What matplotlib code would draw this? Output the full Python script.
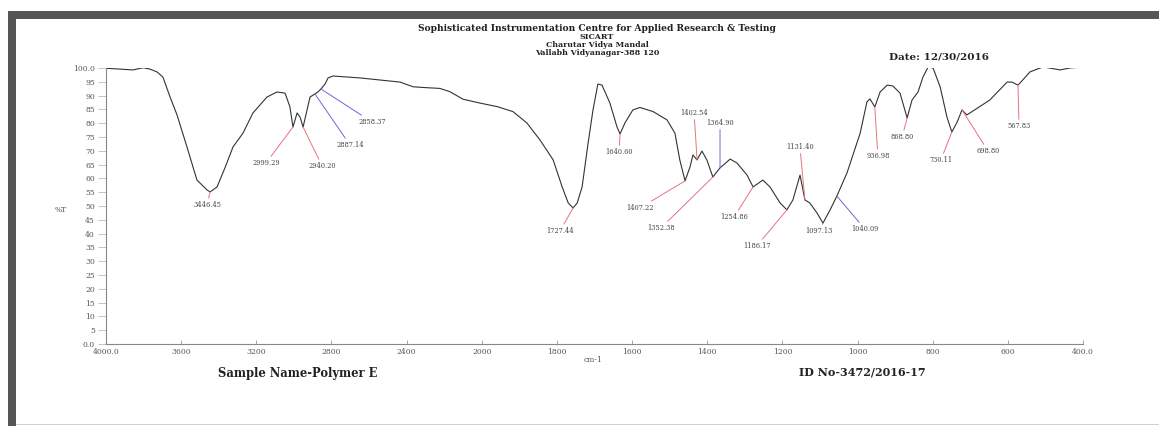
import numpy as np
import matplotlib
matplotlib.use("Agg")
import matplotlib.pyplot as plt
from matplotlib.patches import Rectangle

# ---------------- data ----------------
wavenumber = [4000, 3925, 3856, 3803, 3766, 3729, 3697, 3659, 3622, 3569, 3516, 3462,
              3446, 3409, 3367, 3324, 3271, 3218, 3143, 3090, 3047, 3021, 3005, 2983,
              2967, 2951, 2914, 2888, 2872, 2856, 2834, 2818, 2792, 2648, 2435, 2366,
              2302, 2222, 2169, 2100, 2010, 1959, 1917, 1880, 1845, 1810, 1786, 1770,
              1757, 1746, 1733, 1717, 1704, 1691, 1680, 1659, 1640, 1632, 1619, 1598,
              1579, 1544, 1507, 1486, 1473, 1459, 1446, 1438, 1427, 1414, 1401, 1385,
              1366, 1339, 1321, 1294, 1278, 1252, 1233, 1206, 1188, 1172, 1153, 1140,
              1127, 1108, 1092, 1073, 1055, 1028, 993, 975, 967, 954, 940, 921, 906,
              887, 868, 855, 839, 826, 812, 799, 780, 762, 749, 735, 722, 709, 701,
              648, 602, 589, 573, 560, 541, 506, 461, 435, 400]
transmittance = [99.9, 99.6, 99.3, 100.1, 99.6, 98.6, 96.7, 89.5, 83.0, 71.4, 59.4, 55.8,
                 55.1, 56.9, 63.8, 71.4, 76.4, 83.7, 89.5, 91.3, 90.9, 85.9, 78.6, 83.7,
                 82.2, 78.6, 89.5, 90.6, 91.3, 92.4, 94.2, 96.4, 97.1, 96.4, 94.9, 93.2,
                 92.9, 92.6, 91.4, 88.7, 87.3, 86.0, 84.2, 80.1, 73.9, 66.7, 56.9, 51.1,
                 49.3, 51.1, 56.9, 72.8, 84.8, 94.2, 93.8, 87.3, 78.6, 76.1, 80.1, 84.8,
                 85.7, 84.2, 81.2, 76.4, 66.7, 59.1, 64.1, 68.5, 66.7, 69.9, 66.7, 60.5,
                 63.8, 67.0, 65.6, 61.2, 56.9, 59.4, 56.9, 51.1, 48.6, 52.2, 61.2, 52.2,
                 51.1, 47.5, 43.8, 48.6, 53.6, 62.0, 76.4, 87.7, 88.8, 85.9, 91.3, 93.8, 93.5,
                 90.9, 81.9, 88.4, 91.3, 96.7, 100.4, 100.0, 93.1, 82.2, 76.8, 80.4, 84.8, 83.0, 83.7,
                 88.4, 94.9, 94.9, 93.8, 95.7, 98.6, 100.4, 99.3, 100.0, 100.4]

peak_labels = ["3446.45", "2999.29", "2940.20", "2887.14", "2858.37", "1727.44",
               "1640.60", "1407.22", "1402.54", "1352.38", "1364.90", "1254.86",
               "1186.17", "1131.40", "1097.13", "1040.09", "936.98", "868.80",
               "730.11", "698.80", "567.83"]
peak_wn = [3446, 3005, 2951, 2888, 2856, 1757, 1632, 1459, 1427, 1385, 1366, 1278,
           1188, 1140, 1092, 1055, 954, 868, 749, 722, 573]
peak_t = [55.1, 78.6, 78.6, 90.6, 92.4, 49.3, 76.1, 59.1, 66.7, 60.5, 63.8, 56.9,
          48.6, 52.2, 43.8, 53.6, 85.9, 81.9, 76.8, 84.8, 93.8]

x_ticks = [4000, 3600, 3200, 2800, 2400, 2000, 1800, 1600, 1400, 1200, 1000, 800, 600, 400]
x_tick_labels = ["4000.0", "3600", "3200", "2800", "2400", "2000", "1800", "1600",
                 "1400", "1200", "1000", "800", "600", "400.0"]
y_ticks = list(range(0, 101, 5))
y_tick_labels = ["0.0"] + [str(v) for v in range(5, 100, 5)] + ["100.0"]

# ---------------- layout / style ----------------
W, H = 1159, 426
label_offsets = [(-3, -13), (-27, -36), (19, -39), (35, -51), (51, -33), (-13, -23),
                 (-1, -18), (-45, -27), (-3, 47), (-52, -51), (0, 45), (-19, -30),
                 (-30, -36), (-5, 53), (-4, -8), (28, -33), (3, -49), (-5, -19),
                 (-11, -28), (26, -41), (1, -41)]
blue_set = {"2887.14", "2858.37", "1364.90", "1040.09"}
RED = "#e8727f"
BLUE = "#6a6ad8"
SERIF = "DejaVu Serif"


def fx(px):
    return px / W


def fy(py):
    return 1 - py / H


def fwd(w):
    w = np.asarray(w, dtype=float)
    return np.where(w >= 2000, w, 2 * w - 2000)


def inv(p):
    p = np.asarray(p, dtype=float)
    return np.where(p >= 2000, p, (p + 2000) / 2)


fig = plt.figure(figsize=(W / 100, H / 100), dpi=100)
fig.patch.set_facecolor("white")

# frame bars
fig.patches.append(Rectangle((fx(8), fy(19)), fx(W - 8), 8 / H, transform=fig.transFigure,
                             facecolor="#555555", edgecolor="none"))
fig.patches.append(Rectangle((fx(8), 0), 8 / W, fy(11), transform=fig.transFigure,
                             facecolor="#555555", edgecolor="none"))
fig.patches.append(Rectangle((fx(16), fy(425)), fx(W - 16), 1.2 / H, transform=fig.transFigure,
                             facecolor="#d0d0d0", edgecolor="none"))

ax = fig.add_axes([fx(106), fy(344), (1083 - 106) / W, (344 - 68) / H])
ax.set_xscale("function", functions=(fwd, inv))
ax.plot(wavenumber, transmittance, color="#333333", lw=0.8)
ax.set_xlim(4000, 400)
ax.set_ylim(0, 100)
ax.set_facecolor("none")

for s in ["top", "right"]:
    ax.spines[s].set_visible(False)
for s in ["left", "bottom"]:
    ax.spines[s].set_color("#888888")
    ax.spines[s].set_linewidth(0.8)

ax.set_xticks(x_ticks)
ax.set_xticklabels(x_tick_labels)
ax.set_yticks(y_ticks)
ax.set_yticklabels(y_tick_labels)
ax.xaxis.set_minor_locator(matplotlib.ticker.NullLocator())
ax.tick_params(axis="x", direction="in", length=3, width=0.6, color="#999999",
               labelsize=5.5, labelcolor="#555555", pad=3)
ax.tick_params(axis="y", direction="out", length=6, width=0.6, color="#bbbbbb",
               labelsize=5.5, labelcolor="#555555", pad=2)
for t in ax.get_xticklabels() + ax.get_yticklabels():
    t.set_fontfamily(SERIF)

for lab, w, t, (dx, dy) in zip(peak_labels, peak_wn, peak_t, label_offsets):
    c = BLUE if lab in blue_set else RED
    ax.annotate(lab, xy=(w, t), xytext=(dx, dy), textcoords="offset pixels",
                ha="center", va="center", fontsize=4.8, color="#444444",
                family=SERIF,
                arrowprops=dict(arrowstyle="-", color=c, lw=0.7, shrinkA=0, shrinkB=0))

# texts
fig.text(fx(597), fy(28.5), "Sophisticated Instrumentation Centre for Applied Research & Testing",
         ha="center", va="center", fontsize=6.6, fontweight="bold", family=SERIF, color="#222222")
fig.text(fx(597), fy(37), "SICART", ha="center", va="center", fontsize=5.7,
         fontweight="bold", family=SERIF, color="#222222")
fig.text(fx(597), fy(45), "Charutar Vidya Mandal", ha="center", va="center", fontsize=5.7,
         fontweight="bold", family=SERIF, color="#222222")
fig.text(fx(597), fy(53), "Vallabh Vidyanagar-388 120", ha="center", va="center", fontsize=5.7,
         fontweight="bold", family=SERIF, color="#222222")
fig.text(fx(939), fy(57), "Date: 12/30/2016", ha="center", va="center", fontsize=7.5,
         fontweight="bold", family=SERIF, color="#222222")
fig.text(fx(298), fy(373), "Sample Name-Polymer E", ha="center", va="center", fontsize=8.3,
         fontweight="bold", family=SERIF, color="#222222")
fig.text(fx(862), fy(372), "ID No-3472/2016-17", ha="center", va="center", fontsize=8,
         fontweight="bold", family=SERIF, color="#222222")
fig.text(fx(61), fy(210), "%T", ha="center", va="center", fontsize=5.5, family=SERIF,
         color="#555555")
fig.text(fx(593), fy(360), "cm-1", ha="center", va="center", fontsize=5.5, family=SERIF,
         color="#555555")

fig.savefig("out.png", dpi=100)
